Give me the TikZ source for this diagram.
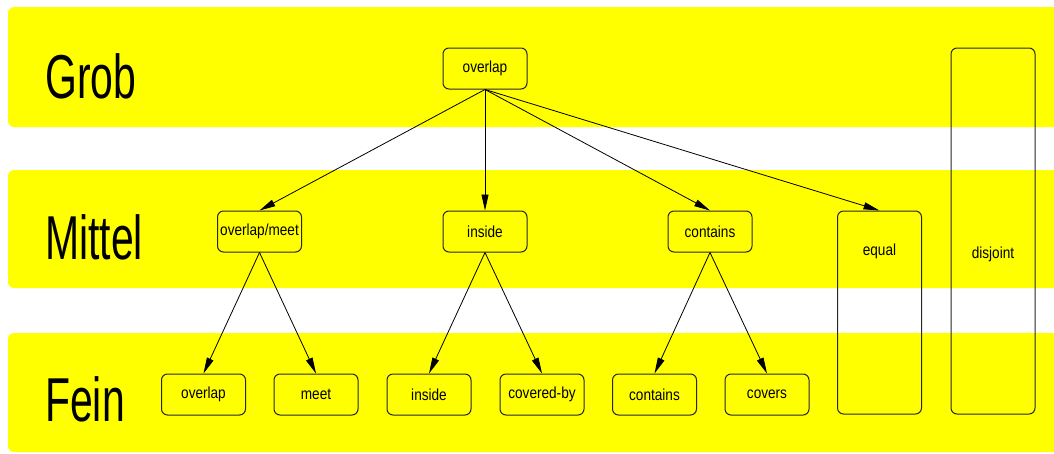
\documentclass[tikz,border=0pt]{standalone}
\usepackage{fontspec}
\setmainfont{Liberation Sans}
\newfontfamily\levelfont[FakeStretch=0.66]{Liberation Sans}
\newfontfamily\boxfont[FakeStretch=0.85]{Liberation Sans}
\usetikzlibrary{arrows.meta}
\definecolor{bandyellow}{RGB}{255,255,0}
\tikzset{
  band/.style={fill=bandyellow, draw=none, rounded corners=6pt},
  level/.style={anchor=base west, inner sep=0pt, font=\levelfont\fontsize{62}{62}\selectfont},
  relbox/.style={draw=black!85, line width=1pt, rounded corners=6pt,
    minimum width=84pt, minimum height=41pt, inner sep=0pt,
    font=\boxfont\fontsize{16}{16}\selectfont},
  tallbox/.style={relbox, minimum height=#1},
  boxtext/.style={font=\boxfont\fontsize{16}{16}\selectfont, inner sep=0pt},
  link/.style={line width=0.8pt, -{Triangle[length=16pt,width=7pt]}}
}
\begin{document}
\begin{tikzpicture}[x=1pt,y=-1pt]
  \useasboundingbox (0,0) rectangle (1054,453);
  \begin{scope}
    \clip (0,0) rectangle (1054,453);
    % the three refinement levels
    \fill[band] (8,7) rectangle (1070,127);
    \fill[band] (8,170) rectangle (1070,288);
    \fill[band] (8,333) rectangle (1070,452);
  \end{scope}

  \node[level] (grob) at (45,98) {Grob};
  \node[level] (mittel) at (45,259) {Mittel};
  \node[level] (fein) at (45,421) {Fein};

  % coarse level
  \node[relbox] (g-overlap) at (485,68.5) {overlap};
  \node[tallbox=366pt, label={[boxtext, yshift=-23pt]center:disjoint}] (disjoint) at (993,231) {};

  % medium level
  \node[relbox] (m-overlapmeet) at (259.5,231.5) {overlap/meet};
  \node[relbox] (m-inside) at (485,231.5) {inside};
  \node[relbox] (m-contains) at (710,231.5) {contains};
  \node[tallbox=203pt, label={[boxtext, yshift=61pt]center:equal}] (equal) at (879.5,312.5) {};

  % fine level
  \node[relbox] (f-overlap) at (203.5,394.5) {overlap};
  \node[relbox] (f-meet) at (316,394.5) {meet};
  \node[relbox] (f-inside) at (429,394.5) {inside};
  \node[relbox] (f-coveredby) at (542,394.5) {covered-by};
  \node[relbox] (f-contains) at (654.5,394.5) {contains};
  \node[relbox] (f-covers) at (767,394.5) {covers};

  \draw[link] (g-overlap.south) -- (m-overlapmeet.north);
  \draw[link] (g-overlap.south) -- (m-inside.north);
  \draw[link] (g-overlap.south) -- (m-contains.north);
  \draw[link] (g-overlap.south) -- (equal.north);

  \draw[link] (m-overlapmeet.south) -- (f-overlap.north);
  \draw[link] (m-overlapmeet.south) -- (f-meet.north);
  \draw[link] (m-inside.south) -- (f-inside.north);
  \draw[link] (m-inside.south) -- (f-coveredby.north);
  \draw[link] (m-contains.south) -- (f-contains.north);
  \draw[link] (m-contains.south) -- (f-covers.north);
\end{tikzpicture}
\end{document}
